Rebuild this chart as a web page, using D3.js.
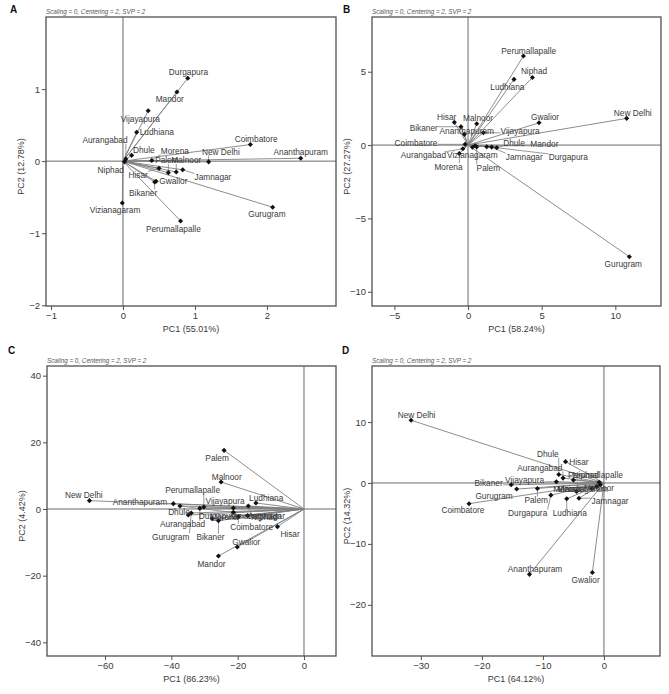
<!DOCTYPE html>
<html><head><meta charset="utf-8">
<script src="https://cdn.jsdelivr.net/npm/d3@7"></script>
<style>
body{margin:0;background:#fff}
svg{display:block}
text{font-family:"Liberation Sans",Arial,sans-serif}
</style>
</head><body>
<svg id="chart" width="669" height="694"></svg>
<script>
// ---------- DATA ----------
const environments = ["Ananthapuram","Aurangabad","Bikaner","Coimbatore","Dhule","Durgapura","Gurugram","Gwalior","Hisar","Jamnagar","Ludhiana","Malnoor","Mandor","Morena","New Delhi","Niphad","Palem","Perumallapalle","Vijayapura","Vizianagaram"];
const subtitle = "Scaling = 0, Centering = 2, SVP = 2";

// Panel A
const pc1A = [2.47, 0.04, 0.44, 1.77, 0.12, 0.90, 2.08, 0.46, 0.50, 0.83, 0.19, 0.74, 0.75, 0.40, 1.19, 0.02, 0.63, 0.80, 0.35, -0.01];
const pc2A = [0.04, 0.03, -0.29, 0.23, 0.08, 1.15, -0.64, -0.28, -0.10, -0.12, 0.40, -0.15, 0.96, 0.01, -0.01, -0.01, -0.16, -0.83, 0.70, -0.58];
const labPC1A = [2.47, -0.25, 0.28, 1.85, 0.29, 0.91, 2.00, 0.70, 0.21, 1.25, 0.47, 0.88, 0.65, 0.72, 1.36, -0.17, 0.61, 0.70, 0.24, -0.11];
const labPC2A = [0.12, 0.29, -0.44, 0.31, 0.15, 1.23, -0.74, -0.28, -0.19, -0.22, 0.41, 0.01, 0.86, 0.14, 0.13, -0.12, 0.01, -0.94, 0.59, -0.68];
const domainXA = [-1.07, 2.96], domainYA = [-2.01, 2.0];
const ticksXA = [-1, 0, 1, 2], ticksYA = [-2, -1, 0, 1];
const titlesA = ["PC1 (55.01%)", "PC2 (12.78%)"];

// Panel B
const pc1B = [-0.25, -0.35, -0.48, -0.20, 1.27, 1.95, 10.95, 4.82, -0.93, 1.60, 3.12, 0.59, 0.48, -0.59, 10.77, 4.37, 0.59, 3.76, 1.04, 0.30];
const pc2B = [0.73, -0.25, 1.25, 0.05, -0.11, -0.18, -7.61, 1.52, 1.55, -0.14, 4.48, 1.45, -0.05, -0.57, 1.82, 4.61, -0.12, 6.07, 0.84, -0.15];
const labPC1B = [-0.09, -3.03, -3.01, -3.53, 3.12, 6.81, 10.54, 5.23, -1.45, 3.82, 2.67, 0.68, 5.18, -1.33, 11.18, 4.48, 1.38, 4.12, 3.53, 0.29];
const labPC2B = [0.98, -0.68, 1.14, 0.11, 0.16, -0.84, -8.14, 1.89, 1.93, -0.80, 3.98, 1.86, 0.05, -1.48, 2.16, 5.02, -1.55, 6.43, 0.98, -0.68];
const domainXB = [-6.52, 13.1], domainYB = [-10.97, 8.73];
const ticksXB = [-5, 0, 5, 10], ticksYB = [-10, -5, 0, 5];
const titlesB = ["PC1 (58.24%)", "PC2 (27.27%)"];

// Panel C
const pc1C = [-39.4, -31.4, -25.8, -19.8, -34.9, -27.7, -34.0, -20.1, -8.0, -17.0, -14.5, -25.0, -25.8, -21.3, -64.7, -16.8, -24.1, -30.2, -21.3, -37.4];
const pc2C = [1.6, 0.2, -3.5, -2.3, -1.8, -2.9, -1.2, -11.4, -5.3, -2.0, 1.8, 8.1, -14.1, -1.0, 2.5, 0.9, 17.6, 0.6, 0.3, 0.9];
const labPC1C = [-49.5, -36.6, -28.2, -15.8, -37.7, -25.8, -40.2, -17.4, -4.2, -11.3, -11.4, -23.3, -27.9, -24.0, -66.4, -12.0, -26.2, -33.6, -23.8, -14.5];
const labPC2C = [2.0, -4.6, -8.5, -5.5, -0.8, -2.0, -8.3, -9.8, -7.6, -2.0, 3.2, 9.7, -16.5, -2.3, 4.2, -2.3, 15.2, 5.7, 2.4, -2.0];
const domainXC = [-77.5, 9.65], domainYC = [-44.1, 42.9];
const ticksXC = [-60, -40, -20, 0], ticksYC = [-40, -20, 0, 20, 40];
const titlesC = ["PC1 (86.23%)", "PC2 (4.42%)"];

// Panel D
const pc1D = [-12.2, -6.7, -15.2, -22.1, -7.4, -8.7, -14.3, -1.9, -6.3, -4.1, -6.1, -0.6, -4.5, -1.2, -31.6, -0.8, -10.9, -5.0, -7.8, -2.0];
const pc2D = [-15.0, 0.8, -0.3, -3.4, 1.4, -2.0, -1.0, -14.7, 3.5, -2.5, -2.6, -0.3, -1.4, -0.6, 10.3, 0.1, -0.9, 0.5, 0.2, -0.9];
const labPC1D = [-11.3, -10.5, -18.9, -23.1, -9.2, -12.5, -18.0, -3.0, -4.1, 1.0, -5.6, -0.8, -5.3, -6.0, -30.7, -3.0, -11.1, -1.4, -13.0, -3.5];
const labPC2D = [-14.1, 2.5, -0.05, -4.5, 4.75, -4.9, -2.2, -16.0, 3.4, -2.95, -4.9, -0.8, -1.0, -1.0, 11.1, 1.3, -2.8, 1.3, 0.5, -1.0];
const domainXD = [-38.0, 9.18], domainYD = [-28.4, 19.2];
const ticksXD = [-30, -20, -10, 0], ticksYD = [-20, -10, 0, 10];
const titlesD = ["PC1 (64.12%)", "PC2 (14.32%)"];

// ---------- LAYOUT ----------
const panels = [
  {tag:"A", box:[46,336,17,306], tagPos:[10,13], x:pc1A, y:pc2A, lx:labPC1A, ly:labPC2A, dx:domainXA, dy:domainYA, tx:ticksXA, ty:ticksYA, titles:titlesA},
  {tag:"B", box:[372,661,17,306], tagPos:[343,13], x:pc1B, y:pc2B, lx:labPC1B, ly:labPC2B, dx:domainXB, dy:domainYB, tx:ticksXB, ty:ticksYB, titles:titlesB},
  {tag:"C", box:[47,336,366,656], tagPos:[8,354], x:pc1C, y:pc2C, lx:labPC1C, ly:labPC2C, dx:domainXC, dy:domainYC, tx:ticksXC, ty:ticksYC, titles:titlesC},
  {tag:"D", box:[372,660,366,656], tagPos:[342,354], x:pc1D, y:pc2D, lx:labPC1D, ly:labPC2D, dx:domainXD, dy:domainYD, tx:ticksXD, ty:ticksYD, titles:titlesD}
];

const svg = d3.select("#chart");
const textCol = "#3a3a3a", lineCol = "#808080", frameCol = "#505050";

panels.forEach((p, pi) => {
  const [x0, x1, y0, y1] = p.box;
  const sx = d3.scaleLinear().domain(p.dx).range([x0, x1]);
  const sy = d3.scaleLinear().domain(p.dy).range([y1, y0]);
  const g = svg.append("g");

  g.append("text").attr("x", p.tagPos[0]).attr("y", p.tagPos[1])
    .attr("font-size", 10).attr("font-weight", "bold").attr("fill", "#111").text(p.tag);
  g.append("text").attr("x", x0).attr("y", y0 - 3)
    .attr("font-size", 6.3).attr("font-style", "italic").attr("fill", "#555").text(subtitle);

  const clipId = "clip" + pi;
  g.append("clipPath").attr("id", clipId).append("rect")
    .attr("x", x0).attr("y", y0).attr("width", x1 - x0).attr("height", y1 - y0);

  const plot = g.append("g").attr("clip-path", `url(#${clipId})`);
  // zero reference lines
  plot.append("line").attr("x1", sx(0)).attr("x2", sx(0)).attr("y1", y0).attr("y2", y1)
    .attr("stroke", "#6a6a6a").attr("stroke-width", 1);
  plot.append("line").attr("x1", x0).attr("x2", x1).attr("y1", sy(0)).attr("y2", sy(0))
    .attr("stroke", "#6a6a6a").attr("stroke-width", 1);

  const idx = d3.range(environments.length);
  const vec = plot.append("g");
  const leaders = plot.append("g");
  vec.selectAll("line").data(idx).join("line")
    .attr("x1", sx(0)).attr("y1", sy(0))
    .attr("x2", i => sx(p.x[i])).attr("y2", i => sy(p.y[i]))
    .attr("stroke", lineCol).attr("stroke-width", 0.9);

  const pts = plot.append("g");
  const labs = plot.append("g");
  const labels = labs.selectAll("text").data(idx).join("text")
    .attr("x", i => sx(p.lx[i])).attr("y", i => sy(p.ly[i]))
    .attr("text-anchor", "middle").attr("dominant-baseline", "central")
    .attr("font-size", 8.3).attr("fill", textCol)
    .text(i => environments[i]);

  labels.each(function(i) {
    const b = this.getBBox();
    const px = sx(p.x[i]), py = sy(p.y[i]);
    const cx = Math.max(b.x, Math.min(px, b.x + b.width));
    const cy = Math.max(b.y + 1.5, Math.min(py, b.y + b.height - 1.5));
    const d = Math.hypot(cx - px, cy - py);
    if (d > 6) {
      leaders.append("line").attr("x1", px).attr("y1", py).attr("x2", cx).attr("y2", cy)
        .attr("stroke", lineCol).attr("stroke-width", 0.8);
    }
  });

  pts.selectAll("path").data(idx).join("path")
    .attr("d", d3.symbol(d3.symbolSquare, 13)())
    .attr("transform", i => `translate(${sx(p.x[i])},${sy(p.y[i])}) rotate(45)`)
    .attr("fill", "#111");

  // frame
  g.append("rect").attr("x", x0).attr("y", y0).attr("width", x1 - x0).attr("height", y1 - y0)
    .attr("fill", "none").attr("stroke", frameCol).attr("stroke-width", 1.3);

  // axes
  const ax = d3.axisBottom(sx).tickValues(p.tx).tickSize(4).tickPadding(2).tickFormat(d3.format("d"));
  const ay = d3.axisLeft(sy).tickValues(p.ty).tickSize(4).tickPadding(2).tickFormat(d3.format("d"));
  const gx = g.append("g").attr("transform", `translate(0,${y1})`).call(ax);
  const gy = g.append("g").attr("transform", `translate(${x0},0)`).call(ay);
  [gx, gy].forEach(a => {
    a.select(".domain").remove();
    a.selectAll("line").attr("stroke", frameCol).attr("stroke-width", 1);
    a.selectAll("text").attr("font-size", 9.5).attr("fill", textCol)
      .attr("font-family", '"Liberation Sans",Arial,sans-serif');
  });

  g.append("text").attr("x", (x0 + x1) / 2).attr("y", y1 + 26)
    .attr("text-anchor", "middle").attr("font-size", 9).attr("fill", textCol).text(p.titles[0]);
  g.append("text")
    .attr("transform", `translate(${x0 - 22},${(y0 + y1) / 2 + 5}) rotate(-90)`)
    .attr("text-anchor", "middle").attr("font-size", 9).attr("fill", textCol).text(p.titles[1]);
});
</script>
</body></html>
